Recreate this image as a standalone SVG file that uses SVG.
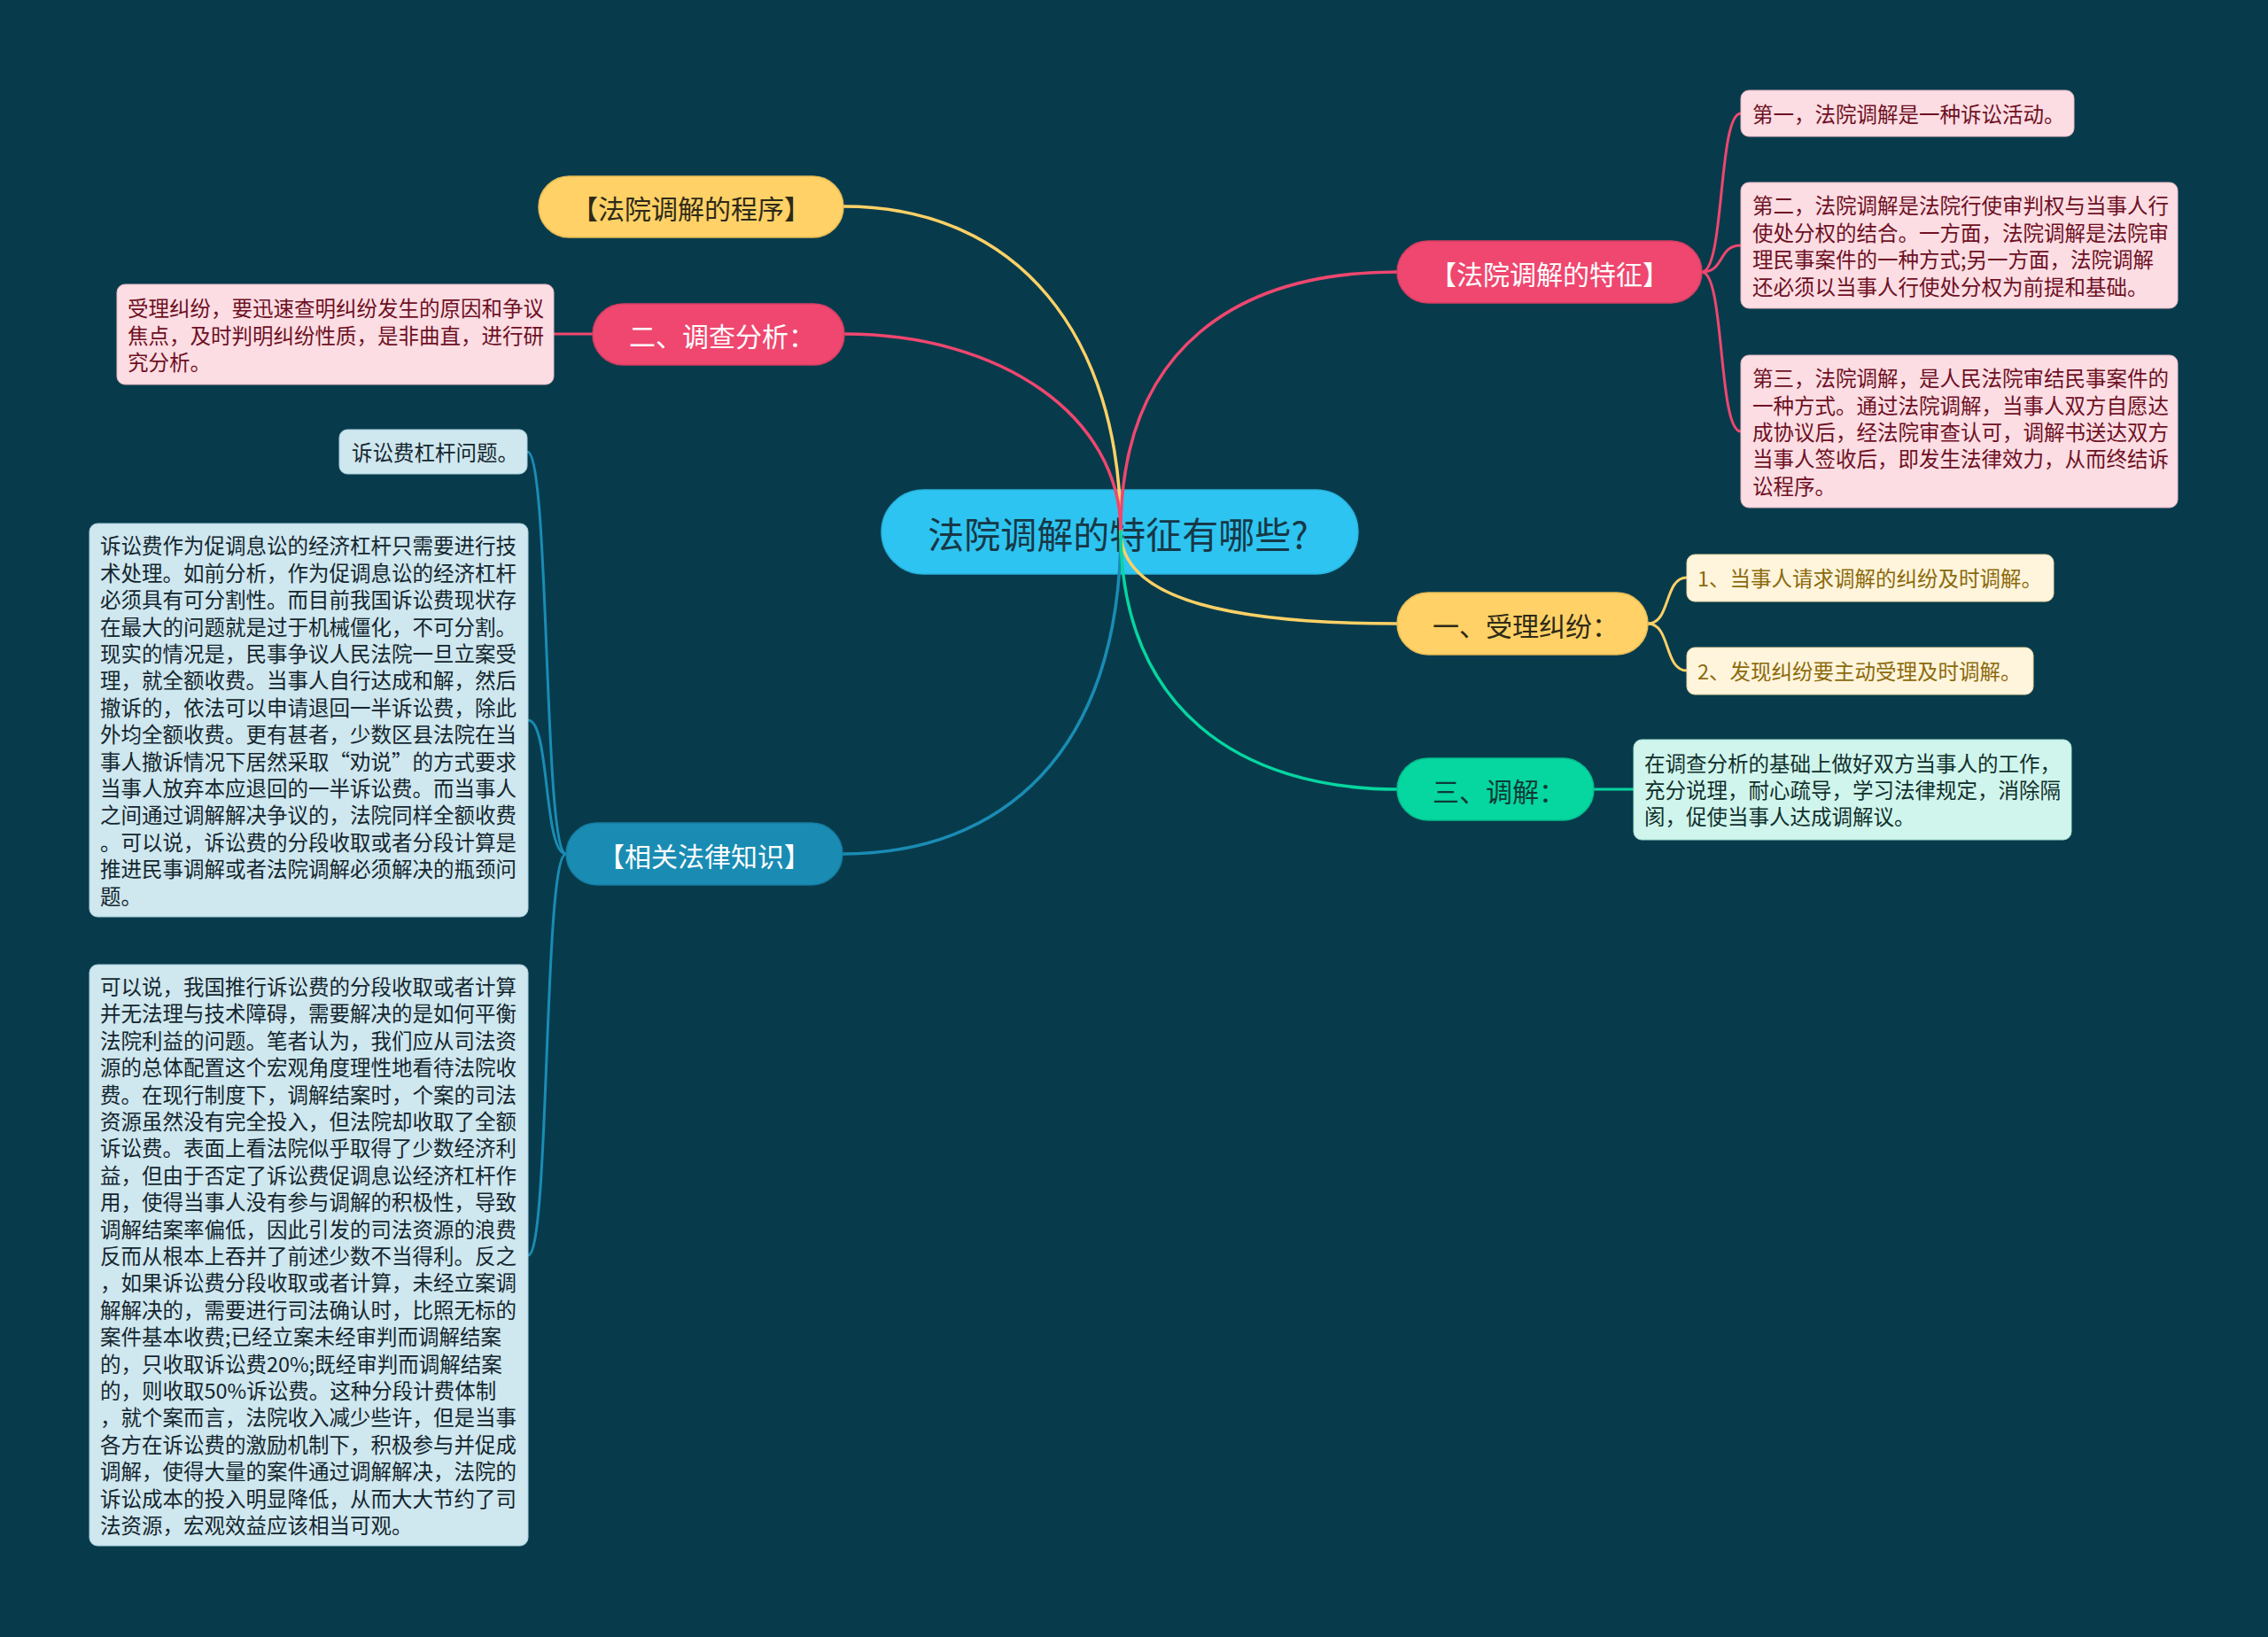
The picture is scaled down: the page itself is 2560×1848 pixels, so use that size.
<svg xmlns="http://www.w3.org/2000/svg" width="2560" height="1848" viewBox="0 0 2560 1848">
<style>
text{font-family:"Noto Sans CJK SC","Noto Sans",sans-serif;}
.main{font-size:30px;text-anchor:middle;dominant-baseline:central;}
.t{font-size:23.5px;dominant-baseline:central;}
.c{fill:none;stroke-width:3.5;stroke-linecap:round;}
.b{fill:none;stroke-width:3;stroke-linecap:round;}
.pk{stroke:#EF476F;}
.yl{stroke:#FFD166;}
.gr{stroke:#06D6A0;}
.bl{stroke:#1A8CB4;}
.pkbox{fill:#FCDDE3;stroke:#E8B9C4;stroke-width:1;}
.pktx{fill:#6E1024;}
.blbox{fill:#CFE7EF;stroke:#A9CFDC;stroke-width:1;}
.bltx{fill:#14262E;}
.ylbox{fill:#FFF5DC;stroke:#EED9A6;stroke-width:1;}
.yltx{fill:#8C6A0C;}
.grbox{fill:#D0F5EC;stroke:#A8E4D4;stroke-width:1;}
.grtx{fill:#10302C;}
</style>
<rect x="0" y="0" width="2560" height="1848" fill="#073B4C"/>

<g id="central">
<rect x="995" y="553" width="538" height="95" rx="47.5" fill="#2EC4F1" stroke="#28B3DD" stroke-width="1.5"/>
<text x="1262" y="601" style="font-size:41px;text-anchor:middle;dominant-baseline:central;fill:#173846;">法院调解的特征有哪些?</text>
</g>

<g id="connectors">
<path class="c yl" d="M1265 600 C1265 380 1150 233 952 233"/>
<path class="c pk" d="M1265 600 C1265 470 1130 377 953 377"/>
<path class="c bl" d="M1265 600 C1265 850 1130 964 951 964"/>
<path class="c pk" d="M1265 600 C1265 390 1400 307 1577 307"/>
<path class="c yl" d="M1265 600 C1265 680 1400 704 1577 704"/>
<path class="c gr" d="M1265 600 C1265 800 1400 891 1577 891"/>
<path class="b pk" d="M669 377 L625 377"/>
<path class="b gr" d="M1799 891 L1844 891"/>
<path class="b pk" d="M1921 307 C1947 307 1939 128 1965 128"/>
<path class="b pk" d="M1921 307 C1947 307 1939 277 1965 277"/>
<path class="b pk" d="M1921 307 C1947 307 1939 487 1965 487"/>
<path class="b yl" d="M1860 704 C1886 704 1878 652 1904 652"/>
<path class="b yl" d="M1860 704 C1886 704 1878 757 1904 757"/>
<path class="b bl" d="M639 964 C613 964 621 510 595 510"/>
<path class="b bl" d="M639 964 C613 964 621 813 596 813"/>
<path class="b bl" d="M639 964 C613 964 621 1417 596 1417"/>
</g>

<g id="n-procedure">
<rect x="608" y="199" width="344" height="69" rx="34.5" fill="#FFD166" stroke="#E8BC55" stroke-width="1.5"/>
<text class="main" x="780" y="234" fill="#2E2A18">【法院调解的程序】</text>
</g>

<g id="n-investigate">
<rect x="669" y="343" width="284" height="69" rx="34.5" fill="#EF476F" stroke="#D63E62" stroke-width="1.5"/>
<text class="main" x="815" y="378" fill="#FFFFFF">二、调查分析：</text>
</g>

<g id="n-investigate-detail">
<rect class="pkbox" x="132" y="321" width="493" height="113" rx="9"/>
<text class="t pktx" x="144" y="347">受理纠纷，要迅速查明纠纷发生的原因和争议</text>
<text class="t pktx" x="144" y="377.5">焦点，及时判明纠纷性质，是非曲直，进行研</text>
<text class="t pktx" x="144" y="408">究分析。</text>
</g>

<g id="n-law">
<rect x="639" y="929" width="312" height="70" rx="35" fill="#1A8CB4" stroke="#167CA0" stroke-width="1.5"/>
<text class="main" x="795" y="965" fill="#FFFFFF">【相关法律知识】</text>
</g>

<g id="n-law-1">
<rect class="blbox" x="383" y="485" width="212" height="50" rx="9"/>
<text class="t bltx" x="397" y="510">诉讼费杠杆问题。</text>
</g>

<g id="n-law-2">
<rect class="blbox" x="101" y="591" width="495" height="444" rx="9"/>
<text class="t bltx" x="113" y="615.4">诉讼费作为促调息讼的经济杠杆只需要进行技</text>
<text class="t bltx" x="113" y="645.8">术处理。如前分析，作为促调息讼的经济杠杆</text>
<text class="t bltx" x="113" y="676.2">必须具有可分割性。而目前我国诉讼费现状存</text>
<text class="t bltx" x="113" y="706.6">在最大的问题就是过于机械僵化，不可分割。</text>
<text class="t bltx" x="113" y="737">现实的情况是，民事争议人民法院一旦立案受</text>
<text class="t bltx" x="113" y="767.4">理，就全额收费。当事人自行达成和解，然后</text>
<text class="t bltx" x="113" y="797.8">撤诉的，依法可以申请退回一半诉讼费，除此</text>
<text class="t bltx" x="113" y="828.2">外均全额收费。更有甚者，少数区县法院在当</text>
<text class="t bltx" x="113" y="858.6">事人撤诉情况下居然采取“劝说”的方式要求</text>
<text class="t bltx" x="113" y="889">当事人放弃本应退回的一半诉讼费。而当事人</text>
<text class="t bltx" x="113" y="919.4">之间通过调解解决争议的，法院同样全额收费</text>
<text class="t bltx" x="113" y="949.8">。可以说，诉讼费的分段收取或者分段计算是</text>
<text class="t bltx" x="113" y="980.2">推进民事调解或者法院调解必须解决的瓶颈问</text>
<text class="t bltx" x="113" y="1010.6">题。</text>
</g>

<g id="n-law-3">
<rect class="blbox" x="101" y="1089" width="495" height="656" rx="9"/>
<text class="t bltx" x="113" y="1113">可以说，我国推行诉讼费的分段收取或者计算</text>
<text class="t bltx" x="113" y="1143.4">并无法理与技术障碍，需要解决的是如何平衡</text>
<text class="t bltx" x="113" y="1173.8">法院利益的问题。笔者认为，我们应从司法资</text>
<text class="t bltx" x="113" y="1204.2">源的总体配置这个宏观角度理性地看待法院收</text>
<text class="t bltx" x="113" y="1234.6">费。在现行制度下，调解结案时，个案的司法</text>
<text class="t bltx" x="113" y="1265">资源虽然没有完全投入，但法院却收取了全额</text>
<text class="t bltx" x="113" y="1295.4">诉讼费。表面上看法院似乎取得了少数经济利</text>
<text class="t bltx" x="113" y="1325.8">益，但由于否定了诉讼费促调息讼经济杠杆作</text>
<text class="t bltx" x="113" y="1356.2">用，使得当事人没有参与调解的积极性，导致</text>
<text class="t bltx" x="113" y="1386.6">调解结案率偏低，因此引发的司法资源的浪费</text>
<text class="t bltx" x="113" y="1417">反而从根本上吞并了前述少数不当得利。反之</text>
<text class="t bltx" x="113" y="1447.4">，如果诉讼费分段收取或者计算，未经立案调</text>
<text class="t bltx" x="113" y="1477.8">解解决的，需要进行司法确认时，比照无标的</text>
<text class="t bltx" x="113" y="1508.2">案件基本收费;已经立案未经审判而调解结案</text>
<text class="t bltx" x="113" y="1538.6">的，只收取诉讼费20%;既经审判而调解结案</text>
<text class="t bltx" x="113" y="1569">的，则收取50%诉讼费。这种分段计费体制</text>
<text class="t bltx" x="113" y="1599.4">，就个案而言，法院收入减少些许，但是当事</text>
<text class="t bltx" x="113" y="1629.8">各方在诉讼费的激励机制下，积极参与并促成</text>
<text class="t bltx" x="113" y="1660.2">调解，使得大量的案件通过调解解决，法院的</text>
<text class="t bltx" x="113" y="1690.6">诉讼成本的投入明显降低，从而大大节约了司</text>
<text class="t bltx" x="113" y="1721">法资源，宏观效益应该相当可观。</text>
</g>

<g id="n-features">
<rect x="1577" y="272" width="344" height="70" rx="35" fill="#EF476F" stroke="#D63E62" stroke-width="1.5"/>
<text class="main" x="1749" y="308" fill="#FFFFFF">【法院调解的特征】</text>
</g>

<g id="n-features-1">
<rect class="pkbox" x="1965" y="102" width="376" height="52" rx="9"/>
<text class="t pktx" x="1978" y="128">第一，法院调解是一种诉讼活动。</text>
</g>

<g id="n-features-2">
<rect class="pkbox" x="1965" y="206" width="493" height="142" rx="9"/>
<text class="t pktx" x="1978" y="231.4">第二，法院调解是法院行使审判权与当事人行</text>
<text class="t pktx" x="1978" y="261.8">使处分权的结合。一方面，法院调解是法院审</text>
<text class="t pktx" x="1978" y="292.2">理民事案件的一种方式;另一方面，法院调解</text>
<text class="t pktx" x="1978" y="322.6">还必须以当事人行使处分权为前提和基础。</text>
</g>

<g id="n-features-3">
<rect class="pkbox" x="1965" y="401" width="493" height="172" rx="9"/>
<text class="t pktx" x="1978" y="426.2">第三，法院调解，是人民法院审结民事案件的</text>
<text class="t pktx" x="1978" y="456.6">一种方式。通过法院调解，当事人双方自愿达</text>
<text class="t pktx" x="1978" y="487">成协议后，经法院审查认可，调解书送达双方</text>
<text class="t pktx" x="1978" y="517.4">当事人签收后，即发生法律效力，从而终结诉</text>
<text class="t pktx" x="1978" y="547.8">讼程序。</text>
</g>

<g id="n-accept">
<rect x="1577" y="669" width="283" height="70" rx="35" fill="#FFD166" stroke="#E8BC55" stroke-width="1.5"/>
<text class="main" x="1722" y="705" fill="#2E2A18">一、受理纠纷：</text>
</g>

<g id="n-accept-1">
<rect class="ylbox" x="1904" y="626" width="414" height="53" rx="9"/>
<text class="t yltx" x="1916" y="652">1、当事人请求调解的纠纷及时调解。</text>
</g>

<g id="n-accept-2">
<rect class="ylbox" x="1904" y="731" width="391" height="53" rx="9"/>
<text class="t yltx" x="1916" y="757">2、发现纠纷要主动受理及时调解。</text>
</g>

<g id="n-mediate">
<rect x="1577" y="856" width="222" height="70" rx="35" fill="#06D6A0" stroke="#05BE8E" stroke-width="1.5"/>
<text class="main" x="1692" y="892" fill="#0E3A36">三、调解：</text>
</g>

<g id="n-mediate-1">
<rect class="grbox" x="1844" y="835" width="494" height="113" rx="9"/>
<text class="t grtx" x="1856" y="860.6">在调查分析的基础上做好双方当事人的工作，</text>
<text class="t grtx" x="1856" y="891">充分说理，耐心疏导，学习法律规定，消除隔</text>
<text class="t grtx" x="1856" y="921.4">阂，促使当事人达成调解议。</text>
</g>
</svg>
